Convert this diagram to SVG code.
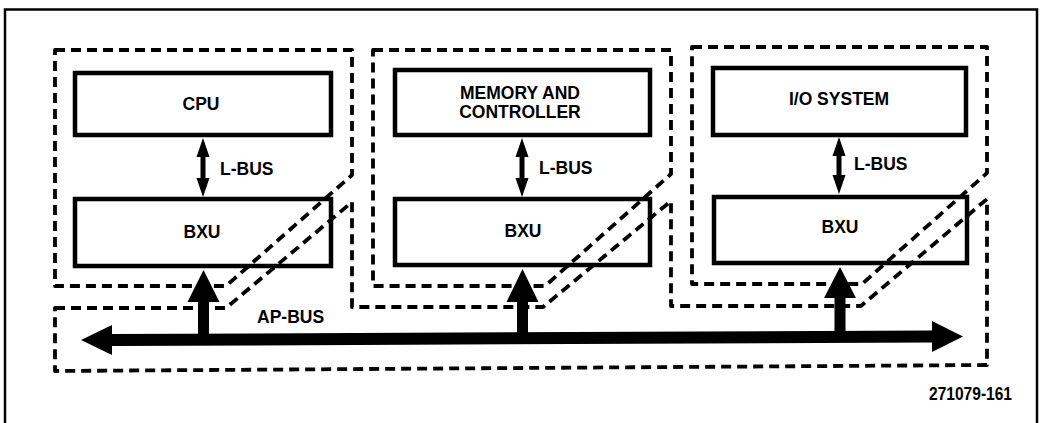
<svg xmlns="http://www.w3.org/2000/svg" width="1040" height="423" viewBox="0 0 1040 423">
  <style>
    .frame { fill: none; stroke: #000; stroke-width: 2.5; }
    .dash { fill: none; stroke: #000; stroke-width: 3.8; stroke-dasharray: 10 6; stroke-linejoin: round; }
    .box { fill: none; stroke: #000; stroke-width: 4.5; }
    .arrow { fill: #000; stroke: none; }
    .lbl { font-family: "Liberation Sans", Arial, Helvetica, sans-serif; font-weight: bold; font-size: 17.5px; fill: #000; }
    .mid { text-anchor: middle; }
  </style>
  <rect width="1040" height="423" fill="#fff"/>
  <rect class="frame" x="5" y="9.5" width="1032" height="430"/>

  <g id="boundaries">
    <path id="module-cpu-boundary" class="dash" d="M55,50 H352 V175 L226,286 H55 Z"/>
    <path id="module-mem-boundary" class="dash" d="M373,50 H671 V174 L545,286 H373 Z"/>
    <path id="module-io-boundary" class="dash" d="M692,47 H987 V173 L862,284 H692 Z"/>
    <path id="apbus-boundary" class="dash" d="M55,308 H226 L352,202 V307 H543 L671,201 V306 H861 L987,199 V365 L55,371 Z"/>
  </g>

  <g id="cpu">
    <rect class="box" x="75" y="73" width="256" height="62"/>
    <text class="lbl mid" x="201" y="110">CPU</text>
  </g>
  <g id="bxu1">
    <rect class="box" x="75" y="199" width="256" height="67"/>
    <text class="lbl mid" x="202" y="238">BXU</text>
  </g>
  <g id="memory">
    <rect class="box" x="395" y="70" width="255" height="65"/>
    <text class="lbl mid" x="520" y="99">MEMORY AND</text>
    <text class="lbl mid" x="520" y="118">CONTROLLER</text>
  </g>
  <g id="bxu2">
    <rect class="box" x="395" y="199" width="255" height="66"/>
    <text class="lbl mid" x="523" y="237">BXU</text>
  </g>
  <g id="io">
    <rect class="box" x="713" y="68" width="253" height="67"/>
    <text class="lbl mid" x="839" y="105">I/O SYSTEM</text>
  </g>
  <g id="bxu3">
    <rect class="box" x="714" y="197" width="253" height="66"/>
    <text class="lbl mid" x="840" y="233">BXU</text>
  </g>

  <g id="connectors">
    <polygon id="lbus1" class="arrow" points="203,138 209.5,157 205.5,157 205.5,178 209.5,178 203,197 196.5,178 200.5,178 200.5,157 196.5,157"/>
    <polygon id="lbus2" class="arrow" points="522,138 528.5,157 524.5,157 524.5,178 528.5,178 522,197 515.5,178 519.5,178 519.5,157 515.5,157"/>
    <polygon id="lbus3" class="arrow" points="839,137 845.5,156 841.5,156 841.5,175 845.5,175 839,194 832.5,175 836.5,175 836.5,156 832.5,156"/>
    <polygon id="apbus" class="arrow" points="81,340 112,325 112,334 932,330.5 932,321 963,336.5 932,352 932,342.5 112,346 112,355"/>
    <polygon id="stub1" class="arrow" points="203.5,270 219.5,302 209,302 209,340 198,340 198,302 187.5,302"/>
    <polygon id="stub2" class="arrow" points="522.5,269 538.5,302 528,302 528,338 517,338 517,302 506.5,302"/>
    <polygon id="stub3" class="arrow" points="840,267 856,298 845.5,298 845.5,336 834.5,336 834.5,298 824,298"/>
  </g>

  <g id="labels">
    <text class="lbl" x="220" y="175">L-BUS</text>
    <text class="lbl" x="539" y="174">L-BUS</text>
    <text class="lbl" x="854" y="170">L-BUS</text>
    <text class="lbl" x="257" y="323">AP-BUS</text>
    <text class="lbl" x="929" y="400" font-size="16.5" textLength="83" lengthAdjust="spacingAndGlyphs">271079-161</text>
  </g>
</svg>
